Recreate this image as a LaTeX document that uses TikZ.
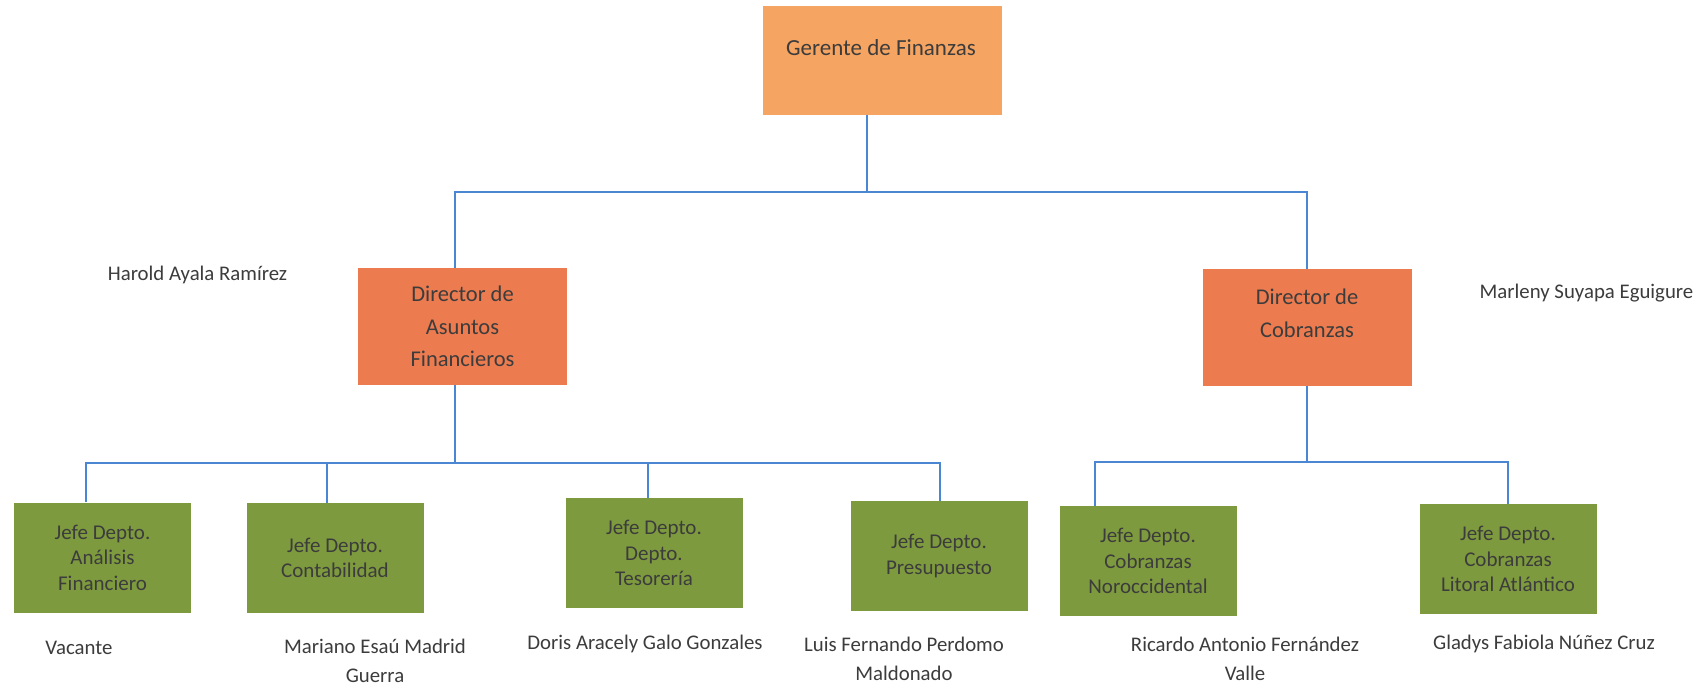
\documentclass[tikz,border=0pt]{standalone}
\usepackage{fontspec}
\setmainfont{Carlito}
\definecolor{topor}{HTML}{F5A462}
\definecolor{diror}{HTML}{EC7B50}
\definecolor{jgreen}{HTML}{7E9A3E}
\definecolor{lblue}{HTML}{4A86D2}
\definecolor{txt}{HTML}{3C3C3C}
\tikzset{
  orgbox/.style={draw=none, inner sep=0pt, text=txt, align=center},
  topbox/.style={orgbox, fill=topor, minimum width=239pt, minimum height=109pt},
  dirbox/.style={orgbox, fill=diror, minimum width=209pt, minimum height=117pt,
    font=\fontsize{22.5}{32.5}\selectfont},
  jefebox/.style={orgbox, fill=jgreen, minimum width=177pt, minimum height=110pt,
    font=\fontsize{21}{25.5}\selectfont},
  boxtext/.style={inner sep=0pt, text=txt, align=center},
  person/.style={inner sep=0pt, text=txt, align=center, font=\fontsize{20.8}{29}\selectfont},
  conn/.style={draw=lblue, line width=1.7pt}
}
\begin{document}
\begin{tikzpicture}[x=1pt,y=-1pt]
\useasboundingbox (0,0) rectangle (1701,686);
\fill[white] (0,0) rectangle (1701,686);

% boxes
\node[topbox] (ger) at (882.5,60.5) {};
\node[boxtext, font=\fontsize{23}{28}\selectfont] (gert) at (881,48) {Gerente de Finanzas};

\node[dirbox] (dirA) at (462.5,326.5) {Director de\\Asuntos\\Financieros};
\node[dirbox] (dirC) at (1307,327.5) {};
\node[boxtext, font=\fontsize{22.5}{32.5}\selectfont] (dirCt) at (1307,313.5) {Director de\\Cobranzas};

\node[jefebox] (b1) at (102.5,557.5) {Jefe Depto.\\Análisis\\Financiero};
\node[jefebox] (b2) at (335,558) {Jefe Depto.\\Contabilidad};
\node[jefebox] (b3) at (654,553) {Jefe Depto.\\Depto.\\Tesorería};
\node[jefebox] (b4) at (939,556) {Jefe Depto.\\Presupuesto};
\node[jefebox] (b5) at (1148,561) {Jefe Depto.\\Cobranzas\\Noroccidental};
\node[jefebox] (b6) at (1508,559) {Jefe Depto.\\Cobranzas\\Litoral Atlántico};

% people
\node[person] (p0) at (197.5,275) {Harold Ayala Ramírez};
\node[person] (p00) at (1586.5,293) {Marleny Suyapa Eguigure};
\node[person] (p1) at (79,648) {Vacante};
\node[person] (p2) at (375,661) {Mariano Esaú Madrid\\Guerra};
\node[person] (p3) at (645,644) {Doris Aracely Galo Gonzales};
\node[person] (p4) at (904,659) {Luis Fernando Perdomo\\Maldonado};
\node[person] (p5) at (1245,659) {Ricardo Antonio Fernández\\Valle};
\node[person] (p6) at (1544,644) {Gladys Fabiola Núñez Cruz};

% bus coordinates
\coordinate (tb) at (867,192);
\coordinate (ta) at (455,192);
\coordinate (tc) at (1307,192);
\coordinate (la) at (455,463);
\coordinate (l1) at (86,463);
\coordinate (l2) at (327,463);
\coordinate (l3) at (648,463);
\coordinate (l4) at (940,463);
\coordinate (rc) at (1307,462);
\coordinate (r1) at (1095,462);
\coordinate (r2) at (1508,462);

% connectors
\draw[conn] (ger.south -| tb) -- (tb);
\draw[conn] (ta |- dirA.north) -- (ta) -- (tc) -- (tc |- dirC.north);
\draw[conn] (dirA.south -| la) -- (la);
\draw[conn] (l1 |- b1.north) -- (l1) -- (l4) -- (l4 |- b4.north);
\draw[conn] (l2) -- (l2 |- b2.north);
\draw[conn] (l3) -- (l3 |- b3.north);
\draw[conn] (dirC.south -| rc) -- (rc);
\draw[conn] (r1 |- b5.north) -- (r1) -- (r2) -- (r2 |- b6.north);
\end{tikzpicture}
\end{document}
